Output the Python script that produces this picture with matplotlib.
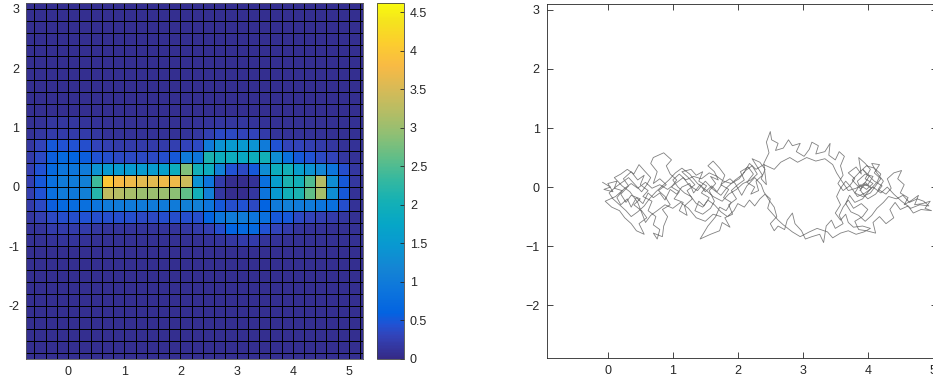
import numpy as np
import matplotlib
matplotlib.use('Agg')
import matplotlib.pyplot as plt
from matplotlib.colors import LinearSegmentedColormap
from matplotlib.ticker import FormatStrFormatter

plt.rcParams['font.family'] = ['Liberation Sans', 'DejaVu Sans']
plt.rcParams['font.size'] = 9

# ---------------- data: heat map (cells of 0.2) ----------------
x_start, y_start, cell = -0.8, -3.0, 0.2
n_cols, n_rows = 31, 31
background = 0.06
band_first_row = 10   # row covering y in [-1.0, -0.8]
band_rows = [
    # y -1.0 .. -0.8
    [0.08,0.08,0.1,0.12,0.12,0.1,0.08,0.08,0.08,0.08,0.08,0.08,0.08,0.08,0.08,0.08,0.1,0.12,0.15,0.2,0.2,0.12,0.1,0.08,0.08,0.08,0.08,0.08,0.08,0.08,0.08],
    # y -0.8 .. -0.6
    [0.1,0.12,0.2,0.2,0.2,0.2,0.15,0.12,0.12,0.12,0.12,0.12,0.12,0.12,0.15,0.2,0.25,0.4,0.6,0.7,0.7,0.45,0.3,0.2,0.12,0.1,0.1,0.08,0.08,0.08,0.08],
    # y -0.6 .. -0.4
    [0.15,0.25,0.35,0.4,0.4,0.45,0.4,0.4,0.4,0.4,0.35,0.35,0.4,0.4,0.4,0.4,0.6,0.9,1.0,1.0,0.9,0.8,0.5,0.5,0.35,0.3,0.25,0.2,0.15,0.08,0.08],
    # y -0.4 .. -0.2
    [0.2,0.35,0.55,0.7,0.75,0.8,0.9,1.0,1.0,1.0,1.0,1.0,1.0,1.0,1.1,1.1,0.9,0.5,0.4,0.45,0.35,0.6,1.0,1.1,1.0,1.0,0.9,0.8,0.4,0.1,0.08],
    # y -0.2 .. 0
    [0.25,0.45,0.8,1.0,0.95,1.1,2.2,3.3,3.2,3.1,3.0,3.0,3.0,2.9,2.6,2.0,1.1,0.15,0.05,0.05,0.15,0.9,1.5,2.0,2.1,2.6,3.1,1.3,0.5,0.1,0.08],
    # y 0 .. 0.2
    [0.25,0.5,0.8,1.0,1.0,1.1,2.4,4.0,3.8,3.7,3.6,3.6,3.7,3.7,3.4,1.4,0.9,0.2,0.05,0.05,0.1,0.8,1.6,2.1,2.0,2.5,3.2,1.3,0.5,0.15,0.08],
    # y 0.2 .. 0.4
    [0.25,0.45,0.7,0.9,0.9,1.0,1.4,1.5,1.5,1.5,1.5,1.5,1.6,1.9,2.8,2.0,1.9,1.1,0.45,0.35,0.5,1.3,1.9,2.0,1.6,1.4,1.2,0.9,0.4,0.15,0.08],
    # y 0.4 .. 0.6
    [0.2,0.35,0.55,0.7,0.6,0.55,0.45,0.4,0.35,0.35,0.35,0.35,0.4,0.5,1.0,0.9,2.1,1.9,1.9,1.8,1.9,2.0,1.3,0.8,0.5,0.45,0.35,0.3,0.15,0.1,0.08],
    # y 0.6 .. 0.8
    [0.15,0.3,0.5,0.45,0.45,0.4,0.3,0.25,0.2,0.2,0.2,0.2,0.2,0.25,0.3,0.35,1.0,1.4,1.5,1.5,1.4,1.0,0.45,0.3,0.3,0.25,0.2,0.15,0.1,0.1,0.08],
    # y 0.8 .. 1.0
    [0.1,0.15,0.2,0.2,0.2,0.2,0.15,0.1,0.1,0.1,0.1,0.1,0.1,0.1,0.12,0.15,0.25,0.35,0.35,0.3,0.3,0.2,0.12,0.1,0.1,0.1,0.1,0.08,0.08,0.08,0.08],
    # y 1.0 .. 1.2
    [0.08,0.1,0.15,0.15,0.15,0.12,0.1,0.08,0.08,0.08,0.08,0.08,0.08,0.08,0.08,0.1,0.12,0.15,0.15,0.15,0.12,0.1,0.08,0.08,0.08,0.08,0.08,0.08,0.08,0.08,0.08],
]
cbar_max = 4.62
cbar_ticks = [0, 0.5, 1, 1.5, 2, 2.5, 3, 3.5, 4, 4.5]

# ---------------- data: trajectory ----------------
path_x = [-0.08,0.04,-0.06,0.08,0.00,0.14,0.10,0.22,0.12,-0.04,0.06,0.18,0.26,0.36,0.44,0.56,0.48,0.60,0.52,0.40,
          0.50,0.36,0.28,0.20,0.32,0.24,0.36,0.46,0.56,0.50,0.62,0.54,0.68,0.62,0.74,0.70,0.80,0.76,0.70,0.84,
          0.86,0.92,0.84,0.96,0.88,0.78,0.90,0.80,0.70,0.76,0.66,0.70,0.86,0.98,0.90,0.96,1.06,0.98,1.10,1.02,
          1.16,1.10,1.22,1.18,1.30,1.22,1.34,1.24,1.14,1.28,1.36,1.46,1.40,1.52,1.44,1.56,1.48,1.40,1.34,1.46,
          1.58,1.64,1.56,1.66,1.58,1.70,1.64,1.54,1.62,1.72,1.80,1.74,1.86,1.78,1.90,1.82,1.72,1.66,1.54,1.42,
          1.58,1.72,1.76,1.88,1.80,1.92,1.86,1.98,1.90,2.00,2.10,2.04,2.16,2.24,2.14,2.26,2.20,2.32,2.28,2.38,
          2.30,2.22,2.34,2.42,2.36,2.44,2.40,2.48,2.44,2.50,2.52,2.62,2.58,2.70,2.78,2.84,2.96,2.90,3.02,3.10,
          3.14,3.24,3.20,3.34,3.42,3.40,3.50,3.56,3.64,3.58,3.62,3.54,3.62,3.72,3.80,3.70,3.82,3.90,3.86,3.96,
          4.04,3.96,4.08,3.98,3.88,3.80,3.92,4.04,4.12,4.20,4.10,4.18,4.06,4.14,4.24,4.16,4.28,4.36,4.30,4.40,
          4.52,4.46,4.56,4.50,4.62,4.56,4.68,4.78,4.72,4.84,4.96,4.88,4.98,4.82,4.70,4.62,4.50,4.42,4.34,4.40,
          4.28,4.18,4.08,4.12,3.98,3.86,3.80,3.92,4.00,3.90,3.78,3.70,3.62,3.56,3.62,3.50,3.44,3.36,3.32,3.26,
          3.14,3.04,2.98,2.88,2.84,2.76,2.72,2.62,2.56,2.50,2.60,2.56,2.48,2.40,2.36,2.26,2.14,2.06,1.96,1.88,
          1.76,1.68,1.60,1.50,1.42,1.32,1.26,1.14,1.06,0.96,0.88,0.80,0.70,0.62,0.54,0.44,0.36,0.30,0.20,0.14,
          0.24,0.36,0.46,0.58,0.68,0.80,0.92,1.04,1.16,1.26,1.38,1.50,1.62,1.74,1.84,1.96,2.08,2.18,2.28,2.40,
          2.56,2.66,2.80,2.92,3.06,3.20,3.34,3.46,3.52,3.60,3.70,3.82,3.94,4.06,3.96,3.88,4.02,3.92,4.10,4.22,
          4.12,4.00,3.90,3.84,3.96,4.08,4.00,3.86,3.76,3.88,3.98,4.10,4.20,4.14,4.02,3.92,3.80,3.72,3.66,3.74,
          3.86,3.96,4.06,4.14,4.24,4.32,4.44,4.54,4.64,4.76,4.86,4.94,4.80,4.66,4.52,4.40,4.30,4.20,4.08,3.96,
          3.84,3.74,3.66,3.58,3.52,3.58,3.50,3.58,3.66,3.70,3.78,3.92,4.04,3.94,3.82,3.70,3.58,3.46,3.38,3.22,
          3.10,2.96,2.84,2.70,2.62,2.54,2.46,2.50,2.42,2.34,2.26,2.18,2.10,2.00,1.94,1.84,1.74,1.64,1.54,1.46,
          1.36,1.28,1.18,1.08,1.00,1.10,1.20,1.32,1.44,1.56,1.68,1.78,1.90,2.02,2.12,2.22,2.30,2.20,2.08,1.98,
          1.86,1.76,1.62,1.50,1.38,1.26,1.14,1.04,0.94,0.84,0.74,0.64,0.56,0.46,0.36,0.28,0.18,0.08,0.02,0.12,
          0.22,0.32,0.42,0.52,0.60,0.66,0.56,0.48,0.40,0.30,0.20,0.10,0.22,0.34,0.46,0.58,0.66,0.76,0.88,1.00,
          1.12,1.24,1.36,1.50,1.62,1.74]
path_y = [0.08,0.00,-0.04,-0.08,0.06,0.10,-0.02,-0.06,-0.16,-0.24,-0.34,-0.40,-0.52,-0.62,-0.74,-0.80,-0.62,-0.52,-0.40,-0.30,
          -0.20,-0.14,-0.26,-0.12,0.02,0.14,0.26,0.12,0.20,0.04,-0.06,-0.16,-0.24,-0.40,-0.50,-0.64,-0.72,-0.88,-0.78,-0.84,
          -0.66,-0.50,-0.38,-0.30,-0.16,-0.06,0.04,0.14,0.06,0.26,0.40,0.50,0.58,0.46,0.36,0.22,0.12,0.00,-0.08,-0.20,
          -0.26,-0.40,-0.48,-0.32,-0.20,-0.06,0.04,0.16,0.26,0.30,0.20,0.26,0.10,0.02,-0.10,-0.18,-0.32,-0.24,-0.40,-0.46,
          -0.36,-0.24,-0.06,0.06,0.18,0.12,0.26,0.36,0.44,0.32,0.20,0.04,-0.04,-0.18,-0.26,-0.40,-0.34,-0.50,-0.66,-0.88,
          -0.80,-0.74,-0.60,-0.68,-0.52,-0.46,-0.30,-0.20,-0.06,0.04,0.12,0.26,0.34,0.22,0.08,0.00,-0.12,-0.06,0.10,0.20,
          0.34,0.48,0.42,0.30,0.14,0.04,0.40,0.58,0.76,0.94,0.80,0.74,0.62,0.66,0.80,0.70,0.74,0.60,0.52,0.64,
          0.76,0.70,0.56,0.60,0.74,0.54,0.46,0.60,0.52,0.36,0.20,0.06,-0.06,0.02,0.14,0.24,0.34,0.22,0.50,0.40,
          0.30,0.14,0.06,-0.04,0.04,-0.10,-0.16,-0.10,0.02,0.14,0.24,0.38,0.40,0.24,0.10,-0.04,-0.12,-0.02,0.14,0.24,
          0.28,0.14,0.04,-0.10,-0.18,-0.30,-0.22,-0.14,-0.30,-0.28,-0.24,-0.36,-0.40,-0.38,-0.44,-0.32,-0.38,-0.26,-0.38,-0.52,
          -0.62,-0.50,-0.60,-0.78,-0.74,-0.72,-0.58,-0.50,-0.38,-0.28,-0.36,-0.22,-0.34,-0.48,-0.62,-0.70,-0.56,-0.66,-0.94,-0.80,
          -0.84,-0.88,-0.74,-0.62,-0.44,-0.56,-0.72,-0.66,-0.74,-0.62,-0.50,-0.34,-0.22,-0.08,0.04,0.16,0.02,-0.14,0.06,0.14,
          0.06,-0.08,0.02,-0.08,0.04,-0.10,0.06,0.00,-0.12,-0.04,-0.22,-0.10,-0.18,-0.10,-0.28,-0.18,-0.34,-0.20,-0.30,-0.18,
          -0.04,0.06,-0.02,0.08,-0.02,0.04,-0.04,0.06,0.16,0.02,-0.06,0.10,-0.04,-0.14,0.00,0.12,0.22,0.40,0.30,0.38,
          0.30,0.42,0.50,0.42,0.50,0.44,0.48,0.38,0.24,0.10,-0.06,-0.02,0.06,-0.02,0.08,-0.06,0.18,0.30,0.10,0.02,
          -0.12,-0.20,-0.08,0.10,0.22,0.18,0.04,0.00,0.12,0.26,0.36,0.32,0.22,0.08,-0.06,-0.20,-0.26,-0.14,-0.28,-0.42,
          -0.48,-0.58,-0.48,-0.36,-0.26,-0.16,-0.20,-0.14,-0.26,-0.20,-0.24,-0.32,-0.30,-0.36,-0.24,-0.12,0.00,-0.10,0.00,-0.10,
          -0.16,0.00,0.10,-0.02,-0.16,-0.30,-0.44,-0.56,-0.46,-0.60,-0.68,-0.66,-0.70,-0.76,-0.80,-0.74,-0.78,-0.86,-0.76,-0.70,
          -0.76,-0.84,-0.76,-0.64,-0.56,-0.46,-0.36,-0.20,-0.12,-0.20,-0.32,-0.22,-0.34,-0.28,-0.40,-0.50,-0.42,-0.30,-0.22,-0.34,
          -0.28,-0.16,-0.10,0.00,0.12,0.22,0.12,0.18,0.14,0.24,0.18,0.10,0.06,0.14,0.28,0.36,0.22,0.12,0.06,-0.04,
          -0.12,-0.24,-0.16,-0.04,0.06,0.22,0.32,0.24,0.12,0.02,-0.08,-0.20,-0.32,-0.42,-0.50,-0.40,-0.30,-0.20,-0.10,0.00,
          0.08,0.16,0.04,-0.08,0.04,0.16,0.28,0.38,0.22,0.30,0.22,0.16,0.02,-0.08,-0.26,-0.60,-0.48,-0.40,-0.30,-0.36,
          -0.26,-0.36,-0.52,-0.58,-0.46,-0.50]

# ---------------- parula colormap ----------------
parula_anchors = [
    (0.2081, 0.1663, 0.5292), (0.1959, 0.2645, 0.7279), (0.1253, 0.3242, 0.8303),
    (0.0117, 0.3875, 0.8820), (0.0498, 0.4586, 0.8641), (0.0793, 0.5200, 0.8312),
    (0.0343, 0.5966, 0.8199), (0.0228, 0.6535, 0.7768), (0.0843, 0.6928, 0.7062),
    (0.2178, 0.7250, 0.6193), (0.3953, 0.7459, 0.5244), (0.5709, 0.7485, 0.4494),
    (0.7184, 0.7411, 0.3905), (0.8507, 0.7299, 0.3360), (0.9739, 0.7314, 0.2666),
    (0.9880, 0.8066, 0.1794), (0.9589, 0.8949, 0.1132), (0.9763, 0.9831, 0.0538)]
parula_pos = [0, 4, 6, 8, 12, 16, 20, 24, 28, 32, 36, 40, 44, 48, 52, 56, 60, 63]
parula = LinearSegmentedColormap.from_list(
    'parula', [(p / 63.0, c) for p, c in zip(parula_pos, parula_anchors)], N=256)

Z = np.full((n_rows, n_cols), background)
Z[band_first_row:band_first_row + len(band_rows), :] = np.array(band_rows)
x_edges = x_start + cell * np.arange(n_cols + 1)
y_edges = y_start + cell * np.arange(n_rows + 1)

W, H = 933, 385
fig = plt.figure(figsize=(W / 100, H / 100), dpi=100)
txt = '#262626'

# left heat map
ax1 = fig.add_axes([26 / W, 1 - 359 / H, 337 / W, 356 / H])
mesh = ax1.pcolormesh(x_edges, y_edges, Z, cmap=parula, vmin=0, vmax=cbar_max,
                      edgecolors='k', linewidth=0.5)
ax1.set_xlim(-0.75, 5.25)
ax1.set_ylim(-2.9, 3.1)
ax1.set_xticks([0, 1, 2, 3, 4, 5])
ax1.set_yticks([-2, -1, 0, 1, 2, 3])
ax1.yaxis.set_major_formatter(FormatStrFormatter('%g'))
ax1.tick_params(length=0, colors=txt, labelsize=9)
ax1.tick_params(axis='x', pad=5)
ax1.tick_params(axis='y', pad=5)
for s in ax1.spines.values():
    s.set_color('#555555')
    s.set_linewidth(0.6)

# colorbar
cax = fig.add_axes([376.7 / W, 1 - 358.7 / H, 27.6 / W, 355.7 / H])
cb = fig.colorbar(mesh, cax=cax)
cb.set_ticks(cbar_ticks)
cb.ax.yaxis.set_major_formatter(FormatStrFormatter('%g'))
cax.tick_params(direction='in', length=3, width=0.6, colors=txt, labelsize=9, pad=4)
cb.outline.set_edgecolor('#444444')
cb.outline.set_linewidth(0.6)

# right trajectory
ax2 = fig.add_axes([546.7 / W, 1 - 358.3 / H, 390 / W, 354.3 / H])
ax2.plot(path_x, path_y, color=(0.5, 0.5, 0.5), linewidth=0.6)
ax2.set_xlim(-0.94, 5.06)
ax2.set_ylim(-2.9, 3.1)
ax2.set_xticks([0, 1, 2, 3, 4, 5])
ax2.set_yticks([-2, -1, 0, 1, 2, 3])
ax2.tick_params(direction='in', top=True, right=True, length=4, width=0.6,
                colors=txt, labelsize=9, pad=5)
for s in ax2.spines.values():
    s.set_color('#262626')
    s.set_linewidth(0.6)

fig.savefig('out.png', dpi=100)
